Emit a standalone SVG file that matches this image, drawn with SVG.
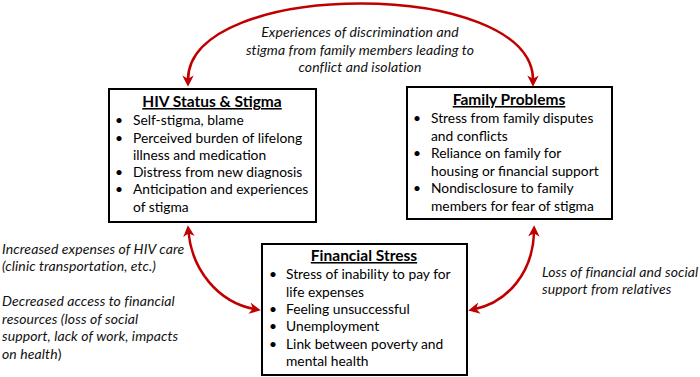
<svg xmlns="http://www.w3.org/2000/svg" width="700" height="377" viewBox="0 0 700 377">
<style>
.box{fill:#fff;stroke:#000;stroke-width:2}
.t{font-family:Lato,"Liberation Sans",sans-serif;font-size:13.8px;fill:#000}
.h{font-family:Lato,"Liberation Sans",sans-serif;font-size:15.5px;font-weight:bold;text-decoration:underline;fill:#000}
.i{font-family:Lato,"Liberation Sans",sans-serif;font-size:14px;font-style:italic;letter-spacing:0.1px;fill:#111}
.c{fill:none;stroke:#C00000;stroke-width:2.6;marker-start:url(#ah);marker-end:url(#ah)}
</style>
<defs>
<marker id="ah" viewBox="0 0 10 10" refX="4" refY="5" markerWidth="4.4" markerHeight="4.4" orient="auto-start-reverse" markerUnits="strokeWidth">
<path d="M0,0 L10,5 L0,10 L3,5 z" fill="#C00000"/>
</marker>
</defs>
<rect width="700" height="377" fill="#fff"/>
<g id="connectors">
<path class="c" d="M188,80 C188,-22 533,-22 533,80"/>
<path class="c" d="M188.5,232 C192,270 218,302 254,309"/>
<path class="c" d="M534,232 C533,272 508,302 475,309"/>
</g>
<g id="labels">
<text class="i" text-anchor="middle"><tspan x="360" y="37">Experiences of discrimination and</tspan><tspan x="360" y="54.5">stigma from family members leading to</tspan><tspan x="360" y="72">conflict and isolation</tspan></text>
<text class="i"><tspan x="2" y="254">Increased expenses of HIV care</tspan><tspan x="2" y="271">(clinic transportation, etc.)</tspan><tspan x="2" y="306">Decreased access to financial</tspan><tspan x="2" y="323.5">resources (loss of social</tspan><tspan x="2" y="341">support, lack of work, impacts</tspan><tspan x="2" y="358.5">on health<tspan font-style="normal">)</tspan></tspan></text>
<text class="i"><tspan x="542" y="277">Loss of financial and social</tspan><tspan x="542" y="294">support from relatives</tspan></text>
</g>
<g id="hiv">
<rect class="box" x="109" y="89" width="207" height="133"/>
<text class="h" x="212" y="107" text-anchor="middle">HIV Status &amp; Stigma</text>
<text class="t"><tspan x="115" y="125">•</tspan><tspan x="115" y="142.5">•</tspan><tspan x="115" y="177">•</tspan><tspan x="115" y="194">•</tspan></text>
<text class="t"><tspan x="133" y="125">Self-stigma, blame</tspan><tspan x="133" y="142.5">Perceived burden of lifelong</tspan><tspan x="133" y="160">illness and medication</tspan><tspan x="133" y="177">Distress from new diagnosis</tspan><tspan x="133" y="194">Anticipation and experiences</tspan><tspan x="133" y="211.5">of stigma</tspan></text>
</g>
<g id="family">
<rect class="box" x="407" y="87" width="205" height="132"/>
<text class="h" x="509" y="105" text-anchor="middle">Family Problems</text>
<text class="t"><tspan x="413" y="123">•</tspan><tspan x="413" y="158">•</tspan><tspan x="413" y="193">•</tspan></text>
<text class="t"><tspan x="431" y="123">Stress from family disputes</tspan><tspan x="431" y="140.5">and conflicts</tspan><tspan x="431" y="158">Reliance on family for</tspan><tspan x="431" y="175.5">housing or financial support</tspan><tspan x="431" y="193">Nondisclosure to family</tspan><tspan x="431" y="210.5">members for fear of stigma</tspan></text>
</g>
<g id="financial">
<rect class="box" x="262" y="244" width="205" height="131"/>
<text class="h" x="364" y="261" text-anchor="middle">Financial Stress</text>
<text class="t"><tspan x="269" y="279">•</tspan><tspan x="269" y="314">•</tspan><tspan x="269" y="331">•</tspan><tspan x="269" y="348.5">•</tspan></text>
<text class="t"><tspan x="286" y="279">Stress of inability to pay for</tspan><tspan x="286" y="296.5">life expenses</tspan><tspan x="286" y="314">Feeling unsuccessful</tspan><tspan x="286" y="331">Unemployment</tspan><tspan x="286" y="348.5">Link between poverty and</tspan><tspan x="286" y="366">mental health</tspan></text>
</g>
</svg>
